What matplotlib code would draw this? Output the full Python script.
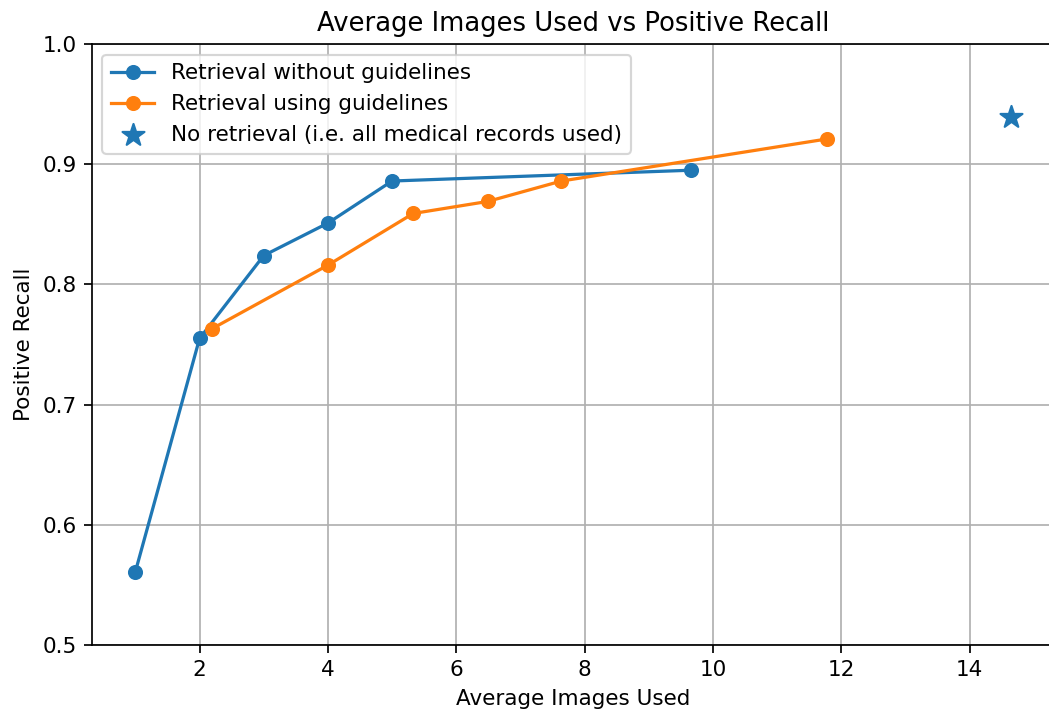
import matplotlib
matplotlib.use("Agg")
import matplotlib.pyplot as plt

no_guid_x = [1, 2, 3, 4, 5, 9.66]
no_guid_y = [0.561, 0.755, 0.824, 0.851, 0.886, 0.895]
guid_x = [2.19, 4.0, 5.33, 6.49, 7.64, 11.78]
guid_y = [0.763, 0.816, 0.859, 0.869, 0.886, 0.921]
noret_x = [14.65]
noret_y = [0.939]

DPI = 155
fig = plt.figure(figsize=(1049 / DPI, 711 / DPI), dpi=DPI)
ax = fig.add_axes([91.6 / 1049, 66 / 711, 963.4 / 1049, 601 / 711])
ax.plot(no_guid_x, no_guid_y, marker='o', label='Retrieval without guidelines')
ax.plot(guid_x, guid_y, marker='o', label='Retrieval using guidelines')
ax.scatter(noret_x, noret_y, marker='*', s=115, label='No retrieval (i.e. all medical records used)')
ax.set_ylim(0.5, 1.0)
ax.set_xlabel('Average Images Used')
ax.set_ylabel('Positive Recall')
ax.set_title('Average Images Used vs Positive Recall')
ax.grid(True)
ax.legend(loc='upper left')
fig.savefig('out.png', dpi=DPI)
